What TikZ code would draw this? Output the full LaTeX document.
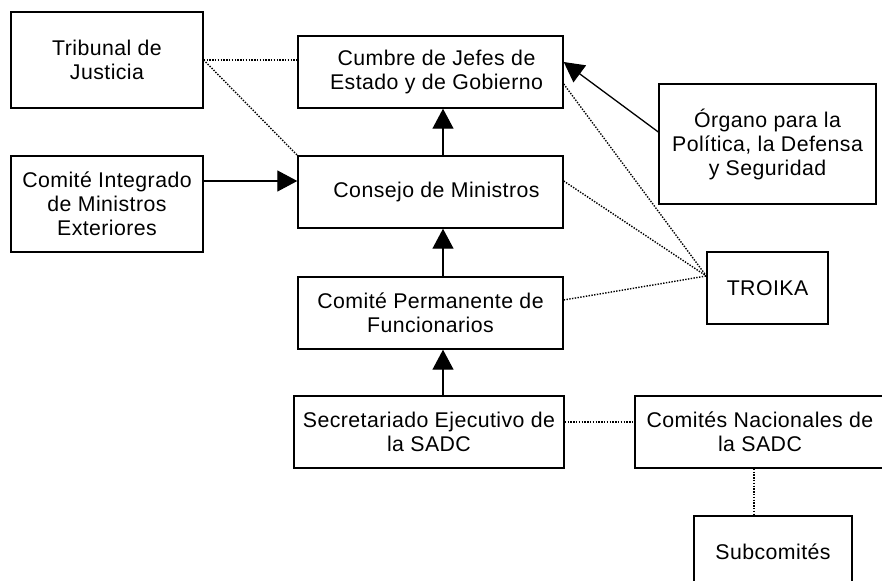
\documentclass[tikz,border=0pt]{standalone}
\usepackage{fontspec}
\setmainfont{Liberation Sans}[LetterSpace=2]
\usetikzlibrary{arrows.meta}
\begin{document}
\begin{tikzpicture}[x=1pt,y=-1pt,
  box/.style={draw, line width=1.4pt, align=center, inner sep=0pt,
    font=\fontsize{21.3}{24}\selectfont},
  arr/.style={line width=1.3pt, -{Triangle[length=20pt,width=21pt]}},
  dots/.style={line width=1.4pt, dash pattern=on 1.4pt off 1.4pt}]
\clip (0,0) rectangle (882,580);
\fill[white] (0,0) rectangle (882,580);
% nodes
\node[box, minimum width=192pt, minimum height=96pt] (trib) at (107,60) {Tribunal de\\Justicia};
\node[box, minimum width=265pt, minimum height=72pt] (cumbre) at (430.5,72) {\hspace*{12pt}Cumbre de Jefes de\\\hspace*{12pt}Estado y de Gobierno};
\node[box, minimum width=192pt, minimum height=96pt] (integ) at (107,204) {Comité Integrado\\de Ministros\\Exteriores};
\node[box, minimum width=265pt, minimum height=72pt] (consejo) at (430.5,192) {\hspace*{12pt}Consejo de Ministros};
\node[box, minimum width=265pt, minimum height=72pt] (perm) at (430.5,313) {Comité Permanente de\\Funcionarios};
\node[box, minimum width=270pt, minimum height=72pt] (secr) at (429,432) {Secretariado Ejecutivo de\\la SADC};
\node[box, minimum width=250pt, minimum height=72pt] (nac) at (760,432) {Comités Nacionales de\\la SADC};
\node[box, minimum width=158pt, minimum height=72pt] (sub) at (773,552) {Subcomités};
\node[box, minimum width=121pt, minimum height=72pt] (troika) at (767.5,288) {TROIKA};
\node[box, minimum width=217pt, minimum height=120pt] (organo) at (767.5,144) {Órgano para la\\Política, la Defensa\\y Seguridad};
% helper coordinates
\coordinate (ax) at (443,0);
\coordinate (tk) at (troika.west |- 0,276);
% solid arrows
\draw[arr] (consejo.north -| ax) -- (cumbre.south -| ax);
\draw[arr] (perm.north -| ax) -- (consejo.south -| ax);
\draw[arr] (secr.north -| ax) -- (perm.south -| ax);
\draw[arr] (integ.east |- 0,181) -- (consejo.west |- 0,181);
\draw[arr] (organo.west |- 0,132) -- (cumbre.east |- 0,62);
% dotted links
\draw[dots] (trib.east) -- (trib.east -| cumbre.west);
\draw[dots] (trib.east) -- (consejo.north west);
\draw[dots] (cumbre.east |- 0,84) -- (tk);
\draw[dots] (consejo.east |- 0,181) -- (tk);
\draw[dots] (perm.east |- 0,300) -- (tk);
\draw[dots] (secr.east |- 0,422) -- (nac.west |- 0,422);
\draw[dots] (nac.south -| 754,0) -- (sub.north -| 754,0);
\end{tikzpicture}
\end{document}
